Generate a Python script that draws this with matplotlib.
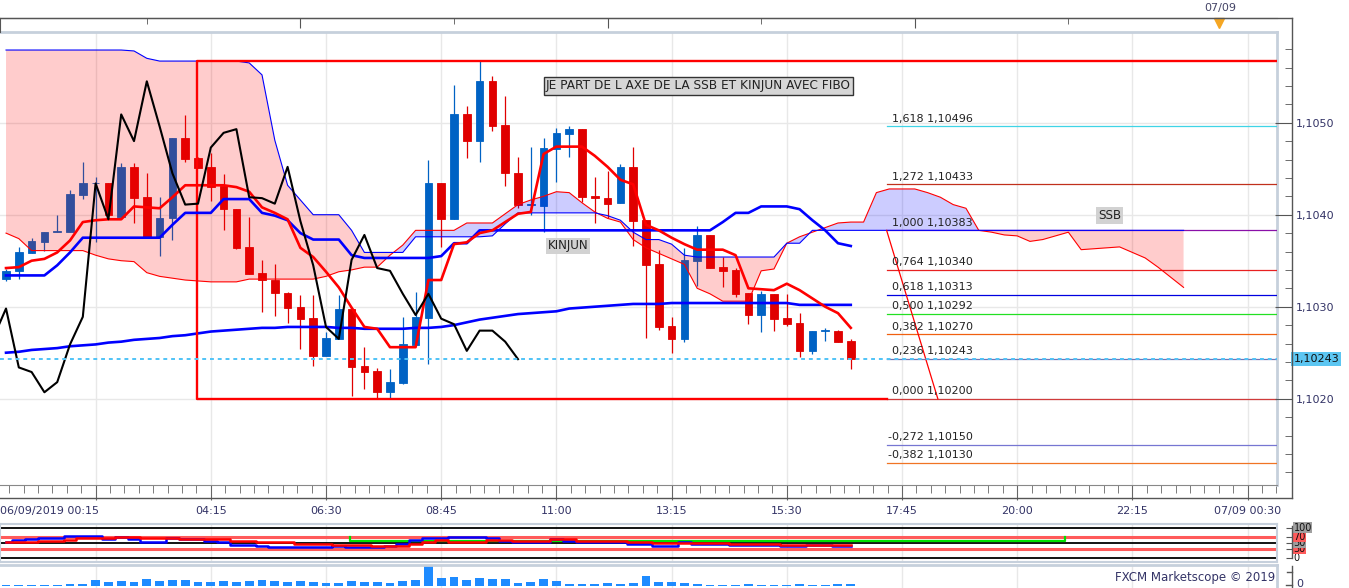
import numpy as np
import matplotlib
matplotlib.use("Agg")
from matplotlib import pyplot as plt
from matplotlib.lines import Line2D
from matplotlib.ticker import FuncFormatter
from matplotlib.transforms import blended_transform_factory as blend

plt.rcParams['font.family'] = ['DejaVu Sans']

W, H = 1349, 588

# candles, 15 min bars from 06/09/2019 00:15
opens = [1.10330, 1.10339, 1.10358, 1.10370, 1.10381, 1.10381, 1.10421, 1.10434, 1.10434, 1.10397,
         1.10452, 1.10419, 1.10376, 1.10396, 1.10483, 1.10462, 1.10452, 1.10431, 1.10406, 1.10365,
         1.10337, 1.10329, 1.10315, 1.10300, 1.10288, 1.10246, 1.10265, 1.10298, 1.10236, 1.10230,
         1.10207, 1.10217, 1.10258, 1.10288, 1.10434, 1.10395, 1.10509, 1.10480, 1.10545, 1.10498,
         1.10445, 1.10411, 1.10409, 1.10471, 1.10488, 1.10493, 1.10420, 1.10418, 1.10413, 1.10452,
         1.10394, 1.10346, 1.10279, 1.10265, 1.10350, 1.10378, 1.10343, 1.10340, 1.10315, 1.10291,
         1.10314, 1.10288, 1.10282, 1.10252, 1.10274, 1.10274, 1.10263]
highs = [1.10341, 1.10365, 1.10375, 1.10381, 1.10400, 1.10427, 1.10457, 1.10441, 1.10434, 1.10456,
         1.10456, 1.10445, 1.10419, 1.10483, 1.10508, 1.10463, 1.10467, 1.10444, 1.10406, 1.10397,
         1.10351, 1.10346, 1.10316, 1.10313, 1.10313, 1.10273, 1.10313, 1.10298, 1.10256, 1.10233,
         1.10232, 1.10289, 1.10316, 1.10459, 1.10434, 1.10541, 1.10518, 1.10567, 1.10551, 1.10529,
         1.10463, 1.10474, 1.10483, 1.10494, 1.10496, 1.10493, 1.10441, 1.10448, 1.10455, 1.10474,
         1.10394, 1.10362, 1.10289, 1.10364, 1.10388, 1.10378, 1.10354, 1.10342, 1.10315, 1.10317,
         1.10314, 1.10314, 1.10293, 1.10274, 1.10277, 1.10275, 1.10265]
lows = [1.10328, 1.10330, 1.10358, 1.10361, 1.10381, 1.10381, 1.10417, 1.10370, 1.10400, 1.10397,
        1.10391, 1.10376, 1.10355, 1.10373, 1.10457, 1.10451, 1.10415, 1.10383, 1.10363, 1.10336,
        1.10294, 1.10290, 1.10282, 1.10254, 1.10236, 1.10246, 1.10265, 1.10203, 1.10211, 1.10200,
        1.10200, 1.10216, 1.10258, 1.10238, 1.10365, 1.10395, 1.10462, 1.10457, 1.10491, 1.10431,
        1.10407, 1.10400, 1.10381, 1.10436, 1.10463, 1.10414, 1.10391, 1.10396, 1.10413, 1.10366,
        1.10266, 1.10275, 1.10250, 1.10262, 1.10322, 1.10342, 1.10321, 1.10311, 1.10281, 1.10272,
        1.10274, 1.10279, 1.10245, 1.10249, 1.10263, 1.10262, 1.10232]
closes = [1.10339, 1.10359, 1.10371, 1.10381, 1.10382, 1.10422, 1.10434, 1.10434, 1.10400, 1.10452,
          1.10418, 1.10376, 1.10396, 1.10483, 1.10461, 1.10451, 1.10430, 1.10406, 1.10364, 1.10336,
          1.10329, 1.10315, 1.10299, 1.10287, 1.10246, 1.10266, 1.10298, 1.10234, 1.10229, 1.10207,
          1.10218, 1.10259, 1.10289, 1.10434, 1.10395, 1.10509, 1.10480, 1.10545, 1.10496, 1.10445,
          1.10411, 1.10412, 1.10473, 1.10489, 1.10493, 1.10419, 1.10418, 1.10412, 1.10452, 1.10393,
          1.10345, 1.10278, 1.10265, 1.10351, 1.10378, 1.10342, 1.10339, 1.10314, 1.10291, 1.10314,
          1.10287, 1.10281, 1.10252, 1.10274, 1.10274, 1.10262, 1.10243]
volume = [2, 2, 2, 2, 2, 4, 4, 17, 12, 14, 12, 20, 14, 16, 16, 12, 12, 14, 12, 14,
          16, 14, 12, 14, 12, 8, 8, 14, 12, 12, 8, 14, 17, 59, 24, 25, 17, 24, 21, 21,
          9, 12, 21, 15, 6, 6, 6, 9, 6, 9, 28, 12, 12, 9, 6, 3, 3, 3, 6, 3,
          3, 3, 6, 3, 3, 6, 6]

# ichimoku lines
tenkan = [1.10342, 1.10343, 1.10350, 1.10352, 1.10359, 1.10372, 1.10392, 1.10394, 1.10395, 1.10395,
          1.10409, 1.10408, 1.10407, 1.10419, 1.10432, 1.10432, 1.10432, 1.10432, 1.10430, 1.10425,
          1.10408, 1.10402, 1.10395, 1.10364, 1.10354, 1.10338, 1.10321, 1.10299, 1.10278, 1.10276,
          1.10256, 1.10256, 1.10256, 1.10329, 1.10329, 1.10368, 1.10370, 1.10380, 1.10383, 1.10392,
          1.10401, 1.10403, 1.10466, 1.10474, 1.10474, 1.10474, 1.10464, 1.10452, 1.10438, 1.10433,
          1.10389, 1.10383, 1.10375, 1.10368, 1.10362, 1.10362, 1.10362, 1.10356, 1.10320, 1.10319,
          1.10318, 1.10325, 1.10318, 1.10309, 1.10300, 1.10293, 1.10277]
kijun = ([1.10334] * 4 + [1.10345, 1.10359] + [1.10375] * 7 + [1.10389] + [1.10402] * 3
         + [1.10417] * 3 + [1.10402, 1.10399, 1.10394, 1.10380] + [1.10373] * 3 + [1.10356]
         + [1.10353] * 6 + [1.10355] + [1.10369] * 2 + [1.10383] * 18 + [1.10383, 1.10392]
         + [1.10402] * 2 + [1.10409] * 3 + [1.10406, 1.10394, 1.10383, 1.10369, 1.10366])
ssb = ([1.10579] * 10 + [1.10578, 1.10570] + [1.10567] * 7
       + [1.10565, 1.10552, 1.10481, 1.10432, 1.10416] + [1.10400] * 3 + [1.10383]
       + [1.10359] * 4 + [1.10376] * 6 + [1.10377, 1.10390] + [1.10402] * 7
       + [1.10399, 1.10394, 1.10381] + [1.10373] * 2 + [1.10368, 1.10356] + [1.10354] * 7
       + [1.10369] * 2 + [1.10383] * 30)
ssa = ([1.10380, 1.10374] + [1.10361] * 5 + [1.10356, 1.10352, 1.10350, 1.10349, 1.10337,
        1.10333, 1.10331, 1.10329, 1.10328] + [1.10327] * 3 + [1.10330] * 6
       + [1.10333, 1.10338, 1.10340] + [1.10343] * 2 + [1.10356, 1.10367] + [1.10383] * 4
       + [1.10391] * 3 + [1.10401, 1.10411, 1.10416, 1.10420, 1.10425, 1.10424, 1.10413,
          1.10403, 1.10396, 1.10392, 1.10373, 1.10364, 1.10358, 1.10352, 1.10346, 1.10320,
          1.10314] + [1.10306] * 3
       + [1.10339, 1.10341, 1.10369, 1.10376, 1.10381, 1.10386, 1.10391, 1.10392, 1.10392,
          1.10424] + [1.10428] * 3
       + [1.10424, 1.10419, 1.10411, 1.10407, 1.10383, 1.10381, 1.10378, 1.10377, 1.10371,
          1.10373, 1.10377, 1.10381, 1.10362, 1.10363, 1.10364, 1.10365, 1.10359, 1.10353,
          1.10343, 1.10332, 1.10321])
ma_line = [1.10250, 1.10251, 1.10253, 1.10254, 1.10255, 1.10257, 1.10258, 1.10259, 1.10261, 1.10262,
           1.10264, 1.10265, 1.10266, 1.10268, 1.10269, 1.10271, 1.10273, 1.10274, 1.10275, 1.10276,
           1.10277, 1.10277, 1.10278, 1.10278, 1.10278, 1.10278, 1.10277, 1.10277, 1.10276, 1.10276,
           1.10276, 1.10276, 1.10277, 1.10277, 1.10278, 1.10280, 1.10283, 1.10286, 1.10288, 1.10290,
           1.10292, 1.10293, 1.10294, 1.10295, 1.10298, 1.10299, 1.10300, 1.10301, 1.10302, 1.10303,
           1.10303, 1.10303, 1.10304, 1.10304, 1.10304, 1.10304, 1.10304, 1.10304, 1.10304, 1.10304,
           1.10304, 1.10304, 1.10302, 1.10302, 1.10302, 1.10302, 1.10302]

# oscillator panel
osc_blue = [54, 59, 62, 66, 66, 71, 74, 71, 62, 68, 62, 52, 54, 66, 62, 62, 57, 52, 43, 43,
            40, 36, 35, 35, 35, 35, 38, 37, 35, 35, 40, 46, 60, 66, 66, 68, 68, 68, 66, 57,
            52, 52, 52, 63, 57, 52, 52, 52, 52, 46, 46, 41, 41, 52, 46, 46, 46, 43, 43, 43,
            43, 40, 40, 43, 43, 40, 40]
osc_red = [52, 52, 52, 57, 57, 60, 66, 66, 66, 68, 68, 66, 66, 66, 63, 63, 63, 63, 57, 57,
           52, 52, 52, 46, 46, 46, 43, 43, 43, 40, 40, 40, 46, 54, 60, 54, 54, 54, 60, 60,
           57, 57, 57, 62, 62, 57, 57, 57, 57, 54, 54, 50, 50, 49, 49, 49, 49, 46, 46, 46,
           46, 43, 43, 43, 43, 43, 43]
osc_levels = [100, 70, 50, 30, 0]
green_level, green_top, green_from, green_to = 56, 70, 26.9, 82.7

# fibonacci tool and drawn box
fib_ratios = [1.618, 1.272, 1.0, 0.764, 0.618, 0.5, 0.382, 0.236, 0.0, -0.272, -0.382]
fib_prices = [1.10496, 1.10433, 1.10383, 1.10340, 1.10313, 1.10292, 1.10270, 1.10243,
              1.10200, 1.10150, 1.10130]
fib_colors = ['#3fd4e6', '#c0301c', '#8a10a8', '#e82020', '#0000e0', '#22e022', '#f06010',
              '#7474b4', '#d03a3a', '#7676d2', '#f07424']
fib_x0, fib_end_x = 68.8, 72.8
box_x0, box_top, box_bottom = 14.9, 1.10567, 1.10200
last_price = 1.10243

label_bars = [16, 25, 34, 43, 52, 61, 70, 79, 88, 97]
label_texts = ["04:15", "06:30", "08:45", "11:00", "13:15", "15:30", "17:45", "20:00",
               "22:15", "07/09 00:30"]
first_label = "06/09/2019 00:15"
price_ticks = [1.1020, 1.1030, 1.1040, 1.1050]
hour_ticks_long = [23, 47, 71]
hour_ticks_short = [11, 35, 59, 83]
day_bar, day_label = 95, "07/09"

XMIN, XMAX = -0.47, 99.3
YMIN, YMAX = 1.101062, 1.105986
BLUE_C, RED_C = '#0062c4', '#e00000'
FRAME = '#c6d0dc'
TXT = '#333366'


def fx(px):
    return px / W


def fy(py):
    return 1 - py / H


def rect(x0, y0, x1, y1):
    return [fx(x0), fy(y1), fx(x1) - fx(x0), fy(y0) - fy(y1)]


def fig_line(fig, xs, ys, **kw):
    fig.add_artist(Line2D([fx(v) for v in xs], [fy(v) for v in ys],
                          transform=fig.transFigure, **kw))


fig = plt.figure(figsize=(W / 100, H / 100), dpi=100)
fig.patch.set_facecolor('white')

major_x = np.arange(7, 100, 9)
minor_x = np.arange(-2, 100, 9 / 8)

ax = fig.add_axes(rect(0, 32, 1277, 485))
ax.set_axisbelow(True)
ax.set_xticks(major_x)
ax.set_xticks(minor_x, minor=True)
ax.set_yticks(price_ticks)
ax.set_xlim(XMIN, XMAX)
ax.set_ylim(YMIN, YMAX)
ax.tick_params(axis='x', which='major', direction='out', length=11, color='#666666',
               labelbottom=False)
ax.tick_params(axis='x', which='minor', direction='out', length=6, color='#666666')
ax.tick_params(axis='y', left=False, labelleft=False)
ax.grid(True, which='major', color='#e8e8e8', lw=1)
for s in ['top', 'right']:
    ax.spines[s].set_color(FRAME)
    ax.spines[s].set_linewidth(2)
ax.spines['left'].set_visible(False)
ax.spines['bottom'].set_color('#888888')

# candles
x = np.arange(len(opens))
o, h, l, c = map(np.array, (opens, highs, lows, closes))
cols = np.where(c >= o, BLUE_C, RED_C)
ax.vlines(x, l, h, colors=cols, lw=0.9, zorder=2)
ax.bar(x, np.maximum(np.abs(c - o), 0.000008), 0.6, bottom=np.minimum(o, c),
       color=cols, edgecolor=cols, lw=0.6, zorder=2.1)

# cloud
xs = np.arange(len(ssa))
a, b = np.array(ssa), np.array(ssb)
ax.fill_between(xs, a, b, where=b >= a, interpolate=True, color='#ff0000', alpha=0.2,
                lw=0, zorder=3)
ax.fill_between(xs, a, b, where=a > b, interpolate=True, color='#0000ff', alpha=0.2,
                lw=0, zorder=3)
ax.plot(xs, ssa, color='#ff0000', lw=0.8, zorder=4)
ax.plot(xs, ssb, color='#0000ff', lw=0.8, zorder=4)

# fibo levels
for r, p, col in zip(fib_ratios, fib_prices, fib_colors):
    ax.plot([fib_x0, XMAX], [p, p], color=col, lw=0.9, zorder=3.5)
    lab = f"{r:.3f} {p:.5f}".replace('.', ',')
    ax.annotate(lab, (75.55, p), xytext=(0, 2), textcoords='offset points', ha='right',
                va='bottom', fontsize=8, color='#222222', zorder=6)
ax.plot([fib_x0, fib_end_x], [fib_prices[2], fib_prices[8]], color='#ff0000', lw=0.9, zorder=5)

# drawn rectangle
ax.plot([XMAX, box_x0, box_x0, fib_x0], [box_top, box_top, box_bottom, box_bottom],
        color='#ff0000', lw=1.7, zorder=5)

ax.plot(x, ma_line, color='#0000ff', lw=1.9, zorder=4.5)
ax.plot(x, kijun, color='#0000ff', lw=1.9, zorder=5)
ax.plot(x, tenkan, color='#ff0000', lw=1.9, zorder=5.2)
ax.plot(np.arange(-1, len(closes) - 25 - 1), closes[25:], color='#000000', lw=1.5, zorder=5.4)
ax.axhline(last_price, color='#4fc3f7', lw=1.4, ls=(0, (2, 2)), zorder=6)

ax.text(54.1, 1.10540, "JE PART DE L AXE DE LA SSB ET KINJUN AVEC FIBO", fontsize=8.7,
        ha='center', va='center', color='#222222', zorder=7,
        bbox=dict(boxstyle='square,pad=0.18', fc='#d6d6d6', ec='#333333', lw=1))
ax.text(43.9, 1.10366, "KINJUN", fontsize=8.6, ha='center', va='center', color='#222222',
        zorder=7, bbox=dict(boxstyle='square,pad=0.15', fc='#d2d2d2', ec='none'))
ax.text(86.2, 1.10399, "SSB", fontsize=8.6, ha='center', va='center', color='#222222',
        zorder=7, bbox=dict(boxstyle='square,pad=0.15', fc='#d2d2d2', ec='none'))

# time labels
tr = blend(ax.transData, ax.transAxes)
ax.text(XMIN, -0.0574, first_label, transform=tr, ha='left', va='center', fontsize=8,
        color=TXT)
for bx, t in zip(label_bars, label_texts):
    ax.text(bx, -0.0574, t, transform=tr, ha='center', va='center', fontsize=8, color=TXT)

# top time strip
ax_t = fig.add_axes(rect(0, 18, 1277, 32))
ax_t.patch.set_visible(False)
ax_t.set_yticks([])
ax_t.set_xticks(hour_ticks_long)
ax_t.set_xticks(hour_ticks_short, minor=True)
ax_t.set_xlim(XMIN, XMAX)
ax_t.set_ylim(0, 1)
ax_t.xaxis.tick_top()
ax_t.tick_params(axis='x', which='major', direction='in', length=7, color='#555555',
                 labeltop=False, labelbottom=False)
ax_t.tick_params(axis='x', which='minor', direction='in', length=4, color='#555555')
for s in ['right', 'bottom']:
    ax_t.spines[s].set_visible(False)
for s in ['top', 'left']:
    ax_t.spines[s].set_color('#555555')
ax_t.plot([day_bar - 0.2], [0.65], marker='v', ms=7, color='#f5a623', lw=0, clip_on=False)
ax_t.text(day_bar - 0.1, 1.75, day_label, ha='center', va='center', fontsize=8,
          color='#444466')

# right price axis
ax_r = fig.add_axes(rect(1277, 32, 1292, 485))
ax_r.patch.set_visible(False)
for s in ax_r.spines.values():
    s.set_visible(False)
ax_r.set_xticks([])
ax_r.set_yticks(price_ticks)
ax_r.set_yticks(np.arange(1.1012, 1.1060, 0.0002), minor=True)
ax_r.set_ylim(YMIN, YMAX)
ax_r.yaxis.tick_right()
ax_r.tick_params(axis='y', which='major', direction='in', length=12, color='#555555',
                 labelsize=8, labelcolor=TXT, pad=3)
ax_r.tick_params(axis='y', which='minor', direction='in', length=5, color='#555555')
ax_r.yaxis.set_major_formatter(FuncFormatter(lambda v, p: f"{v:.4f}".replace('.', ',')))
ax_r.text(1.1, last_price, f"{last_price:.5f}".replace('.', ','),
          transform=blend(ax_r.transAxes, ax_r.transData), ha='left', va='center',
          fontsize=8, color='#111111', zorder=10,
          bbox=dict(boxstyle='square,pad=0.2', fc='#5cc6f2', ec='none'))

# oscillator
ax_o = fig.add_axes(rect(0, 524, 1277, 562))
ax_o.set_xticks(major_x)
ax_o.set_yticks([])
ax_o.set_xlim(XMIN, XMAX)
ax_o.set_ylim(-13.2, 112.2)
ax_o.tick_params(axis='x', length=0, labelbottom=False)
ax_o.grid(True, axis='x', color='#e8e8e8', lw=1)
for s in ax_o.spines.values():
    s.set_color(FRAME)
    s.set_linewidth(1.5)
for v in (100, 50, 0):
    ax_o.axhline(v, color='black', lw=1.3, zorder=2)
for v in (70, 30):
    ax_o.axhline(v, color='#ff5a5a', lw=2.2, zorder=2)
ax_o.plot([green_from, green_from, green_to, green_to],
          [green_top, green_level, green_level, green_top], color='#00e000', lw=1.6, zorder=3)
ax_o.plot(x, osc_blue, color='#0000ff', lw=1.8, drawstyle='steps-mid', zorder=4)
ax_o.plot(x, osc_red, color='#ff0000', lw=1.8, drawstyle='steps-mid', zorder=4.5)

ax_or = fig.add_axes(rect(1277, 524, 1292, 562))
ax_or.patch.set_visible(False)
for s in ax_or.spines.values():
    s.set_visible(False)
ax_or.set_xticks([])
ax_or.set_yticks(osc_levels)
ax_or.set_ylim(-13.2, 112.2)
ax_or.yaxis.tick_right()
ax_or.tick_params(axis='y', direction='in', length=4, color='#555555', labelright=False)
otr = blend(ax_or.transAxes, ax_or.transData)
box_cols = {100: '#a0a0a0', 70: '#ff5a5a', 50: '#a0a0a0', 30: '#ff5a5a', 0: 'none'}
for v in sorted(osc_levels):
    ax_or.text(1.1, v, str(v), transform=otr, ha='left', va='center', fontsize=7,
               color='#111111', bbox=dict(boxstyle='square,pad=0.05', fc=box_cols[v], ec='none'))

# volume
ax_v = fig.add_axes(rect(0, 565, 1277, 588))
ax_v.set_xticks(major_x)
ax_v.set_yticks([])
ax_v.set_xlim(XMIN, XMAX)
ax_v.set_ylim(-6.9, 62.1)
ax_v.tick_params(axis='x', length=0, labelbottom=False)
ax_v.grid(True, axis='x', color='#e8e8e8', lw=1)
ax_v.set_axisbelow(True)
for s in ['left', 'bottom']:
    ax_v.spines[s].set_visible(False)
for s in ['top', 'right']:
    ax_v.spines[s].set_color(FRAME)
    ax_v.spines[s].set_linewidth(2)
ax_v.bar(x, volume, 0.7, color='#1e8bff', zorder=2)
ax_v.text(0.999, 0.45, "FXCM Marketscope \u00a9 2019", transform=ax_v.transAxes,
          ha='right', va='center', fontsize=8.5, color=TXT)

# chart frame pieces
fig_line(fig, [0, 1292], [18, 18], color='#555555', lw=1)
fig_line(fig, [1292, 1292], [18, 498], color='#555555', lw=1)
fig_line(fig, [0, 1292], [498, 498], color='#555555', lw=1)
fig_line(fig, [1292, 1292], [526, 558], color='#555555', lw=1)
fig_line(fig, [1292, 1292], [566, 588], color='#555555', lw=1)
fig_line(fig, [1287, 1292], [572, 572], color='#555555', lw=1)
fig_line(fig, [1286, 1292], [585, 585], color='#555555', lw=1)
fig.text(fx(1296), fy(584), "0", fontsize=8, color=TXT, va='center')

fig.savefig("out.png", dpi=100)
